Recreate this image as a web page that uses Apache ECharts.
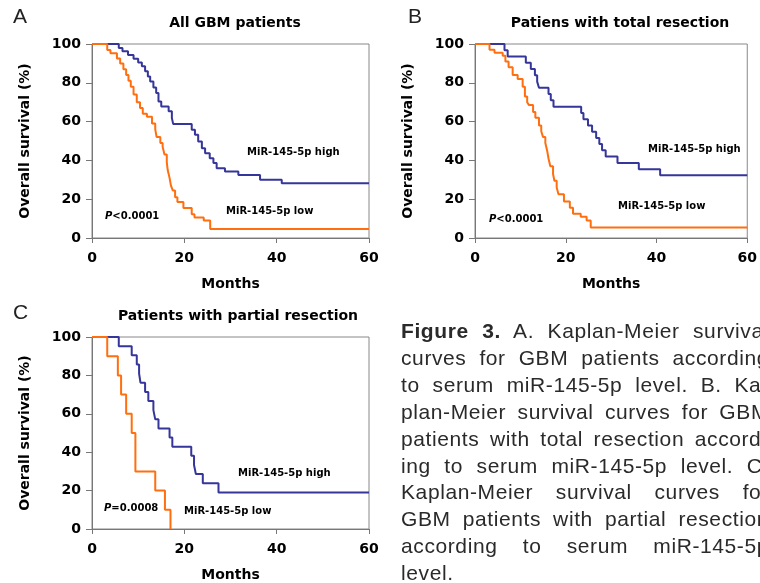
<!DOCTYPE html>
<html>
<head>
<meta charset="utf-8">
<script src="https://cdn.jsdelivr.net/npm/echarts@6/dist/echarts.min.js"></script>
<style>
html, body { margin: 0; padding: 0; background: #fff; overflow: hidden; }
#main { width: 760px; height: 583px; }
#caption { position: absolute; left: 401px; top: 318px; width: 368px;
  font-family: "Liberation Sans", Arial, sans-serif; font-size: 21px; line-height: 26.9px;
  letter-spacing: 0.6px; color: #2a2a2a; }
#caption div { text-align: justify; text-align-last: justify; }
#caption div.last { text-align-last: left; }
</style>
</head>
<body>
<div id="main"></div>
<div id="caption">
  <div><b>Figure 3.</b> A. Kaplan-Meier survival</div>
  <div>curves for GBM patients according</div>
  <div>to serum miR-145-5p level. B. Ka-</div>
  <div>plan-Meier survival curves for GBM</div>
  <div>patients with total resection accord-</div>
  <div>ing to serum miR-145-5p level. C.</div>
  <div>Kaplan-Meier survival curves for</div>
  <div>GBM patients with partial resection</div>
  <div>according to serum miR-145-5p</div>
  <div class="last">level.</div>
</div>
<script>
// months / survival (%)
var aHighT = [0, 5.8, 6.6, 7.8, 9.0, 10.0, 10.8, 11.5, 12.1, 12.6, 13.3, 13.9, 14.4, 15.0, 16.6, 17.3, 17.6, 21.6, 22.3, 23.0, 23.8, 24.5, 25.5, 26.3, 27.0, 28.8, 31.7, 36.4, 41.1, 60];
var aHighS = [100, 98, 96.2, 94.3, 92.4, 90.5, 88.5, 85.9, 83.3, 80.7, 77.6, 74.7, 70.4, 67.8, 65.3, 61.8, 58.7, 55.8, 53.2, 49.8, 46.3, 43.7, 41.1, 38.6, 36.0, 34.3, 32.5, 30.0, 28.2, 28.2];
var aLowT = [0, 3.3, 4.0, 5.4, 6.1, 6.8, 7.4, 7.9, 8.4, 9.0, 9.7, 10.4, 11.0, 11.9, 13.0, 13.7, 14.0, 14.8, 15.3, 15.7, 16.2, 16.4, 16.8, 17.1, 17.5, 18.0, 18.5, 19.8, 21.6, 22.2, 24.2, 25.6, 60];
var aLowS = [100, 96.9, 95.2, 92.5, 90, 87, 84, 81, 78, 74, 70, 67, 64, 62.5, 59, 56, 52, 49, 47, 43, 39, 35, 31, 27, 24.5, 21, 18.6, 15.5, 12.2, 10.6, 9, 4.6, 4.6];

var bHighT = [0, 6.5, 7.2, 11.2, 12.3, 13.2, 13.7, 14.1, 16.2, 16.7, 17.3, 23.4, 23.9, 24.9, 25.8, 26.7, 27.4, 28.0, 28.8, 31.4, 36.1, 40.8, 60];
var bHighS = [100, 96.8, 93.6, 90.3, 87.1, 83.9, 80.6, 77.4, 74.2, 71.0, 67.7, 64.4, 61.2, 58.0, 54.8, 51.6, 48.4, 45.2, 42.0, 38.7, 35.5, 32.3, 32.3];
var bLowT = [0, 3.2, 4.3, 6.1, 6.7, 7.4, 8.3, 9.4, 10.5, 11.0, 11.5, 11.9, 12.8, 13.3, 14.1, 14.6, 15.0, 15.5, 15.9, 16.2, 16.6, 17.2, 17.5, 18.0, 18.4, 19.6, 20.9, 21.6, 23.3, 24.6, 25.5, 60];
var bLowS = [100, 97, 95.5, 94, 91, 88, 84, 82, 78, 73, 70, 68.5, 65, 62, 58, 55, 52, 49, 45, 41, 37, 33, 29.5, 26, 22.5, 18.8, 15.6, 12.5, 11, 9, 5.4, 5.4];

var cHighT = [0, 5.8, 8.6, 9.7, 10.2, 10.5, 11.5, 12.2, 13.3, 13.7, 14.4, 16.8, 17.4, 21.5, 22.1, 22.5, 24.0, 27.4, 60];
var cHighS = [100, 95.2, 90.5, 85.7, 81.0, 76.2, 71.4, 66.7, 61.9, 57.1, 52.4, 47.6, 42.9, 38.1, 33.3, 28.6, 23.8, 19.0, 19.0];
var cLowT = [0, 3.3, 5.6, 6.3, 7.4, 8.6, 9.4, 13.7, 15.8, 17.0];
var cLowS = [100, 90, 80, 70, 60, 50, 30, 20, 10, 0];

var xTicks = [0, 20, 40, 60];
var yTicks = [0, 20, 40, 60, 80, 100];

var titles = ['All GBM patients', 'Patiens with total resection', 'Patients with partial resection'];
var pValues = ['<0.0001', '<0.0001', '=0.0008'];

var BLUE = '#35359a';
var ORANGE = '#ff6f0f';
var FONT = '"DejaVu Sans", Verdana, sans-serif';

function km(t, s) {
  return t.map(function (x, i) { return [x, s[i]]; });
}

var chart = echarts.init(document.getElementById('main'));

var grids = [
  { left: 92, top: 44, width: 277, height: 194 },
  { left: 475, top: 44, width: 277, height: 194 },
  { left: 92, top: 337, width: 277, height: 194 }
];

var xAxes = [], yAxes = [];
grids.forEach(function (g, i) {
  g.show = true;
  g.borderColor = '#888';
  g.borderWidth = 1;
  xAxes.push({
    gridIndex: i, type: 'value', min: xTicks[0], max: xTicks[xTicks.length - 1], interval: 20,
    name: 'Months', nameLocation: 'middle', nameGap: 39,
    nameTextStyle: { fontFamily: FONT, fontWeight: 'bold', fontSize: 14, color: '#000' },
    axisLine: { show: true, lineStyle: { color: '#777', width: 1 } },
    axisTick: { show: true, length: 5, lineStyle: { color: '#777' } },
    axisLabel: { margin: 13, fontFamily: FONT, fontWeight: 'bold', fontSize: 14, color: '#000' },
    splitLine: { show: false }
  });
  yAxes.push({
    gridIndex: i, type: 'value', min: yTicks[0], max: yTicks[yTicks.length - 1], interval: 20,
    name: 'Overall survival (%)', nameLocation: 'middle', nameGap: 60, nameRotate: 90,
    nameTextStyle: { fontFamily: FONT, fontWeight: 'bold', fontSize: 14, color: '#000' },
    axisLine: { show: true, lineStyle: { color: '#777', width: 1 } },
    axisTick: { show: true, length: 6, lineStyle: { color: '#777' } },
    axisLabel: { margin: 11, fontFamily: FONT, fontWeight: 'bold', fontSize: 14, color: '#000' },
    splitLine: { show: false }
  });
});

function curve(i, data, color) {
  return {
    type: 'line', xAxisIndex: i, yAxisIndex: i, step: 'end',
    showSymbol: false, symbol: 'none', data: data,
    lineStyle: { color: color, width: 2 }, itemStyle: { color: color },
    silent: true
  };
}

function label(x, y, text, size, align) {
  return {
    type: 'text', x: x, y: y,
    style: {
      text: text, fill: '#000', textAlign: align || 'left', textVerticalAlign: 'middle',
      font: 'bold ' + size + 'px ' + FONT
    }
  };
}

function pLabel(x, y, p) {
  return {
    type: 'text', x: x, y: y,
    style: {
      text: '{i|P}{b|' + p + '}', textVerticalAlign: 'middle',
      rich: {
        i: { fontFamily: FONT, fontSize: 10, fontWeight: 'bold', fontStyle: 'italic', fill: '#000' },
        b: { fontFamily: FONT, fontSize: 10, fontWeight: 'bold', fill: '#000' }
      }
    }
  };
}

var LETTER = '"Liberation Sans", Arial, sans-serif';
function letter(x, y, t) {
  return { type: 'text', x: x, y: y, style: { text: t, fill: '#222', textVerticalAlign: 'middle', font: '21px ' + LETTER } };
}

chart.setOption({
  animation: false,
  grid: grids,
  xAxis: xAxes,
  yAxis: yAxes,
  series: [
    curve(0, km(aHighT, aHighS), BLUE),
    curve(0, km(aLowT, aLowS), ORANGE),
    curve(1, km(bHighT, bHighS), BLUE),
    curve(1, km(bLowT, bLowS), ORANGE),
    curve(2, km(cHighT, cHighS), BLUE),
    curve(2, km(cLowT, cLowS), ORANGE)
  ],
  graphic: [
    letter(13, 17, 'A'),
    letter(408, 17, 'B'),
    letter(13, 313, 'C'),
    label(235, 23, titles[0], 14, 'center'),
    label(620, 23, titles[1], 14, 'center'),
    label(238, 316, titles[2], 14, 'center'),
    label(247, 152, 'MiR-145-5p high', 10),
    label(226, 211, 'MiR-145-5p low', 10),
    pLabel(105, 216, pValues[0]),
    label(648, 149, 'MiR-145-5p high', 10),
    label(618, 206, 'MiR-145-5p low', 10),
    pLabel(489, 219, pValues[1]),
    label(238, 473, 'MiR-145-5p high', 10),
    label(184, 511, 'MiR-145-5p low', 10),
    pLabel(104, 508, pValues[2])
  ]
});
</script>
</body>
</html>
